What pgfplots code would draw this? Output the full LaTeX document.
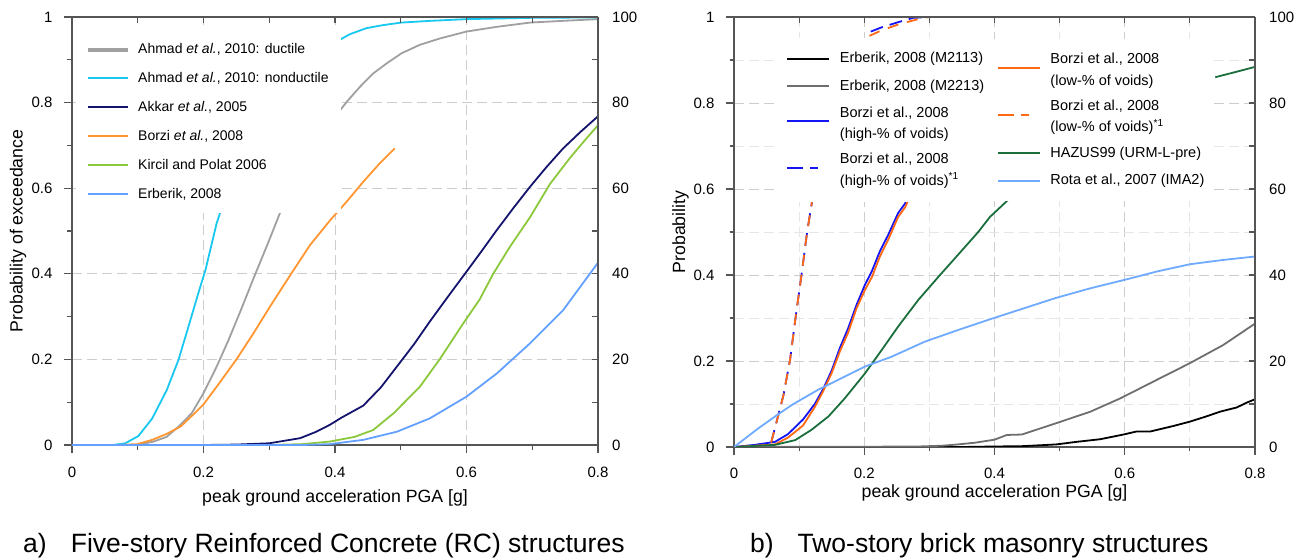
\documentclass[border=0pt]{standalone}
\usepackage{pgfplots}
\pgfplotsset{compat=1.18}
\usepackage{fontspec}
\setmainfont{Liberation Sans}
\definecolor{axisgray}{RGB}{85,85,85}
\definecolor{gridmaj}{RGB}{205,205,205}
\definecolor{gridmin}{RGB}{230,230,230}
\definecolor{ductgray}{RGB}{160,160,160}
\definecolor{cyanA}{RGB}{25,200,240}
\definecolor{navyA}{RGB}{20,20,110}
\definecolor{orangeA}{RGB}{255,150,50}
\definecolor{greenA}{RGB}{140,200,60}
\definecolor{lblueA}{RGB}{100,160,255}
\definecolor{greyB}{RGB}{110,110,110}
\definecolor{blueB}{RGB}{20,20,245}
\definecolor{orangeB}{RGB}{255,105,20}
\definecolor{greenB}{RGB}{25,110,60}
\definecolor{lblueB}{RGB}{110,170,255}
% legend samples
\newcommand{\lsA}[1]{\textcolor{#1}{\rule[3.1pt]{40pt}{2pt}}}
\newcommand{\lsB}[1]{\textcolor{#1}{\rule[2.8pt]{42pt}{2pt}}}
\newcommand{\lsBt}[1]{\textcolor{#1}{\rule[-5.2pt]{42pt}{2pt}}}
\newcommand{\lsBdt}[1]{\textcolor{#1}{\rule[-5.2pt]{16pt}{2pt}\hspace{7pt}\rule[-5.2pt]{8pt}{2pt}}}
\pgfplotsset{
  base/.style={scale only axis, xmin=0, xmax=0.8, ymin=0, ymax=1,
    axis line style={color=axisgray, line width=1.4pt},
    tick style={color=axisgray, line width=1.1pt},
    ticklabel style={font=\fontsize{15}{18}\selectfont, inner sep=0pt},
    label style={font=\fontsize{17.7}{21}\selectfont},
    every axis plot/.append style={line width=1.8pt, no marks, line join=round},
  },
  mainax/.style={base,
    axis x line*=bottom, axis y line*=left, tick align=outside,
    major tick length=8pt, minor tick length=4.5pt,
    xtick={0,0.2,0.4,0.6,0.8}, xticklabels={0,0.2,0.4,0.6,0.8},
    minor xtick={0.1,0.3,0.5,0.7},
    ytick={0,0.2,0.4,0.6,0.8,1}, yticklabels={0,0.2,0.4,0.6,0.8,1},
    minor ytick={0.1,0.3,0.5,0.7,0.9},
    xticklabel style={anchor=base, yshift=-24pt},
    yticklabel style={anchor=east, xshift=-11.4pt},
    major grid style={color=gridmaj, line width=0.9pt, dash pattern=on 10pt off 5pt},
    minor grid style={color=gridmin, line width=0.9pt, dash pattern=on 10pt off 5pt},
  },
  overax/.style={base,
    axis x line*=top, axis y line*=right, tick align=inside,
    major tick length=6pt, minor tick length=6pt,
    xtick={0,0.2,0.4,0.6,0.8}, xticklabels={}, minor xtick={0.1,0.3,0.5,0.7},
    ytick={0,0.2,0.4,0.6,0.8,1}, yticklabels={0,20,40,60,80,100},
    minor ytick={0.1,0.3,0.5,0.7,0.9},
    yticklabel style={anchor=west, xshift=14pt},
  },
}
\begin{document}
\begin{tikzpicture}
\path[use as bounding box] (0,0) rectangle (1301pt,557pt);
% ================= Panel a =================
\begin{axis}[mainax, at={(72pt,112pt)}, anchor=south west, width=526pt, height=428pt, grid=major,
  xlabel={peak ground acceleration PGA [g]}, ylabel={Probability of exceedance},
  xlabel style={at={(axis description cs:0.5,-0.1355)}, anchor=base},
  ylabel style={at={(axis description cs:-0.094,0.5)}, anchor=base},
]
\addplot[color=ductgray] coordinates {(0,0) (0.099,0) (0.124,0.008) (0.144,0.019) (0.162,0.043) (0.182,0.074) (0.2,0.121) (0.22,0.183) (0.238,0.245) (0.256,0.312) (0.276,0.389) (0.299,0.475) (0.316,0.541) (0.337,0.604) (0.351,0.643)};
\addplot[color=ductgray] coordinates {(0.4,0.767) (0.418,0.802) (0.438,0.837) (0.458,0.868) (0.479,0.892) (0.501,0.915) (0.529,0.935) (0.56,0.95) (0.6,0.966) (0.646,0.977) (0.697,0.987) (0.747,0.991) (0.8,0.995)};
\addplot[color=cyanA] coordinates {(0,0) (0.062,0) (0.081,0.004) (0.101,0.021) (0.122,0.062) (0.144,0.128) (0.162,0.199) (0.177,0.276) (0.192,0.354) (0.203,0.409) (0.22,0.518) (0.235,0.588) (0.252,0.643)};
\addplot[color=cyanA] coordinates {(0.4015,0.942) (0.423,0.96) (0.448,0.974) (0.473,0.981) (0.501,0.987) (0.545,0.991) (0.6,0.995) (0.697,0.998) (0.8,0.999)};
\addplot[color=navyA] coordinates {(0,0) (0.2,0) (0.25,0.001) (0.3,0.004) (0.347,0.016) (0.37,0.03) (0.392,0.047) (0.41,0.064) (0.443,0.092) (0.47,0.135) (0.494,0.183) (0.52,0.235) (0.544,0.288) (0.572,0.347) (0.6,0.405) (0.623,0.453) (0.646,0.502) (0.672,0.555) (0.697,0.604) (0.722,0.65) (0.747,0.693) (0.773,0.731) (0.8,0.768)};
\addplot[color=orangeA] coordinates {(0,0) (0.068,0) (0.099,0.002) (0.122,0.012) (0.144,0.026) (0.165,0.043) (0.185,0.072) (0.2,0.095) (0.22,0.136) (0.251,0.202) (0.276,0.261) (0.301,0.323) (0.332,0.397) (0.362,0.467) (0.392,0.524) (0.418,0.569) (0.443,0.615) (0.468,0.658) (0.491,0.693)};
\addplot[color=greenA] coordinates {(0,0) (0.3,0) (0.35,0.002) (0.392,0.008) (0.43,0.019) (0.458,0.035) (0.489,0.074) (0.529,0.136) (0.56,0.202) (0.595,0.284) (0.62,0.34) (0.641,0.401) (0.666,0.463) (0.697,0.533) (0.727,0.61) (0.757,0.67) (0.78,0.712) (0.8,0.747)};
\addplot[color=lblueA] coordinates {(0,0) (0.35,0) (0.392,0.002) (0.443,0.012) (0.494,0.031) (0.544,0.062) (0.6,0.113) (0.646,0.167) (0.697,0.238) (0.747,0.315) (0.8,0.426)};
\node[anchor=north west, fill=white, inner xsep=12pt, inner ysep=6pt, font=\fontsize{14}{16}\selectfont]
  at (axis description cs:0.0076,0.9764) {\renewcommand{\arraystretch}{1.808}%
  \begin{tabular}{@{}l@{\hspace{10pt}}l@{}}
  \textcolor{ductgray}{\rule[1.9pt]{40pt}{4pt}} & Ahmad \textit{et al.}, 2010: ductile\\
  \lsA{cyanA} & Ahmad \textit{et al.}, 2010: nonductile\\
  \lsA{navyA} & Akkar \textit{et al.}, 2005\\
  \lsA{orangeA} & Borzi \textit{et al.}, 2008\\
  \lsA{greenA} & Kircil and Polat 2006\\
  \lsA{lblueA} & Erberik, 2008
  \end{tabular}};
\end{axis}
\begin{axis}[overax, at={(72pt,112pt)}, anchor=south west, width=526pt, height=428pt]
\end{axis}
% ================= Panel b =================
\begin{axis}[mainax, at={(734pt,110pt)}, anchor=south west, width=521pt, height=430pt, grid=both,
  xlabel={peak ground acceleration PGA [g]}, ylabel={Probability},
  xlabel style={at={(axis description cs:0.5,-0.1163)}, anchor=base},
  ylabel style={at={(axis description cs:-0.094,0.5)}, anchor=base},
]
\addplot[color=black] coordinates {(0,0) (0.35,0) (0.393,0.001) (0.444,0.002) (0.495,0.006) (0.526,0.012) (0.562,0.018) (0.598,0.029) (0.618,0.036) (0.639,0.036) (0.675,0.049) (0.7,0.059) (0.725,0.071) (0.746,0.082) (0.772,0.092) (0.787,0.103) (0.8,0.111)};
\addplot[color=greyB] coordinates {(0,0) (0.28,0.001) (0.32,0.003) (0.344,0.006) (0.37,0.01) (0.4,0.017) (0.419,0.028) (0.442,0.029) (0.49,0.053) (0.547,0.082) (0.593,0.113) (0.649,0.156) (0.7,0.195) (0.751,0.237) (0.8,0.287)};
\addplot[color=blueB] coordinates {(0,0) (0.032,0.005) (0.063,0.012) (0.083,0.03) (0.106,0.064) (0.124,0.1) (0.137,0.135) (0.15,0.178) (0.163,0.232) (0.175,0.275) (0.188,0.33) (0.201,0.377) (0.212,0.41) (0.224,0.455) (0.237,0.494) (0.252,0.544) (0.263,0.567) (0.275,0.608) (0.287,0.644)};
\addplot[color=blueB, dash pattern=on 13pt off 7pt] coordinates {(0.057,0.01) (0.068,0.074) (0.076,0.121) (0.086,0.202) (0.094,0.295) (0.104,0.404) (0.112,0.497) (0.119,0.563) (0.124,0.621)};
\addplot[color=blueB, dash pattern=on 13pt off 7pt] coordinates {(0.21,0.966) (0.225,0.975) (0.25,0.987) (0.275,0.998) (0.3,1.0)};
\addplot[color=orangeB] coordinates {(0,0) (0.032,0.003) (0.063,0.006) (0.083,0.022) (0.106,0.05) (0.124,0.093) (0.137,0.13) (0.15,0.172) (0.163,0.224) (0.175,0.265) (0.188,0.322) (0.201,0.365) (0.212,0.396) (0.224,0.443) (0.237,0.483) (0.252,0.535) (0.263,0.558) (0.275,0.6) (0.289,0.644)};
\addplot[color=orangeB, dash pattern=on 11pt off 9pt] coordinates {(0.057,0.01) (0.068,0.074) (0.076,0.121) (0.086,0.202) (0.094,0.295) (0.104,0.404) (0.112,0.497) (0.119,0.563) (0.124,0.621)};
\addplot[color=orangeB, dash pattern=on 11pt off 9pt] coordinates {(0.208,0.956) (0.225,0.968) (0.255,0.984) (0.288,0.997) (0.3,1.0)};
\addplot[color=greenB] coordinates {(0,0) (0.063,0.005) (0.094,0.016) (0.119,0.04) (0.145,0.071) (0.17,0.113) (0.201,0.171) (0.227,0.226) (0.252,0.28) (0.283,0.342) (0.314,0.396) (0.344,0.447) (0.375,0.5) (0.393,0.535) (0.419,0.572) (0.444,0.605) (0.47,0.644)};
\addplot[color=greenB] coordinates {(0.739,0.86) (0.77,0.872) (0.8,0.884)};
\addplot[color=lblueB] coordinates {(0,0) (0.037,0.043) (0.063,0.071) (0.089,0.098) (0.129,0.133) (0.165,0.16) (0.201,0.187) (0.242,0.21) (0.293,0.245) (0.344,0.272) (0.393,0.297) (0.444,0.322) (0.495,0.347) (0.547,0.369) (0.603,0.39) (0.649,0.408) (0.7,0.425) (0.751,0.435) (0.8,0.443)};
\node[anchor=north west, fill=white, inner xsep=10pt, inner ysep=10pt, font=\fontsize{14.5}{16}\selectfont]
  at (axis description cs:0.082,0.9516) {\renewcommand{\arraystretch}{1.333}%
  \begin{tabular}{@{}l@{\hspace{11pt}}l@{}}
  \lsB{black} & Erberik, 2008 (M2113)\\[6pt]
  \lsB{greyB} & Erberik, 2008 (M2213)\\[5.6pt]
  \lsBt{blueB} & Borzi et al., 2008\\
   & (high-\% of voids)\\[4pt]
  \lsBdt{blueB} & Borzi et al., 2008\\
   & (high-\% of voids)\textsuperscript{*1}
  \end{tabular}};
\node[anchor=north west, fill=white, inner xsep=10pt, inner ysep=10pt, font=\fontsize{14.5}{16}\selectfont]
  at (axis description cs:0.488,0.9493) {\renewcommand{\arraystretch}{1.333}%
  \begin{tabular}{@{}l@{\hspace{10pt}}l@{}}
  \lsBt{orangeB} & Borzi et al., 2008\\
   & (low-\% of voids)\\[4pt]
  \lsBdt{orangeB} & Borzi et al., 2008\\
   & (low-\% of voids)\textsuperscript{*1}\\[4pt]
  \lsB{greenB} & HAZUS99 (URM-L-pre)\\[6pt]
  \lsB{lblueB} & Rota et al., 2007 (IMA2)
  \end{tabular}};
\end{axis}
\begin{axis}[overax, at={(734pt,110pt)}, anchor=south west, width=521pt, height=430pt]
\end{axis}
% ================= captions =================
\node[anchor=base west, inner sep=0pt, font=\fontsize{26.5}{30}\selectfont] at (23pt,5pt) {a)};
\node[anchor=base west, inner sep=0pt, font=\fontsize{26.5}{30}\selectfont] at (70.7pt,5pt) {Five-story Reinforced Concrete (RC) structures};
\node[anchor=base west, inner sep=0pt, font=\fontsize{26.5}{30}\selectfont] at (750pt,5pt) {b)};
\node[anchor=base west, inner sep=0pt, font=\fontsize{26.5}{30}\selectfont] at (797.4pt,5pt) {Two-story brick masonry structures};
\end{tikzpicture}
\end{document}
